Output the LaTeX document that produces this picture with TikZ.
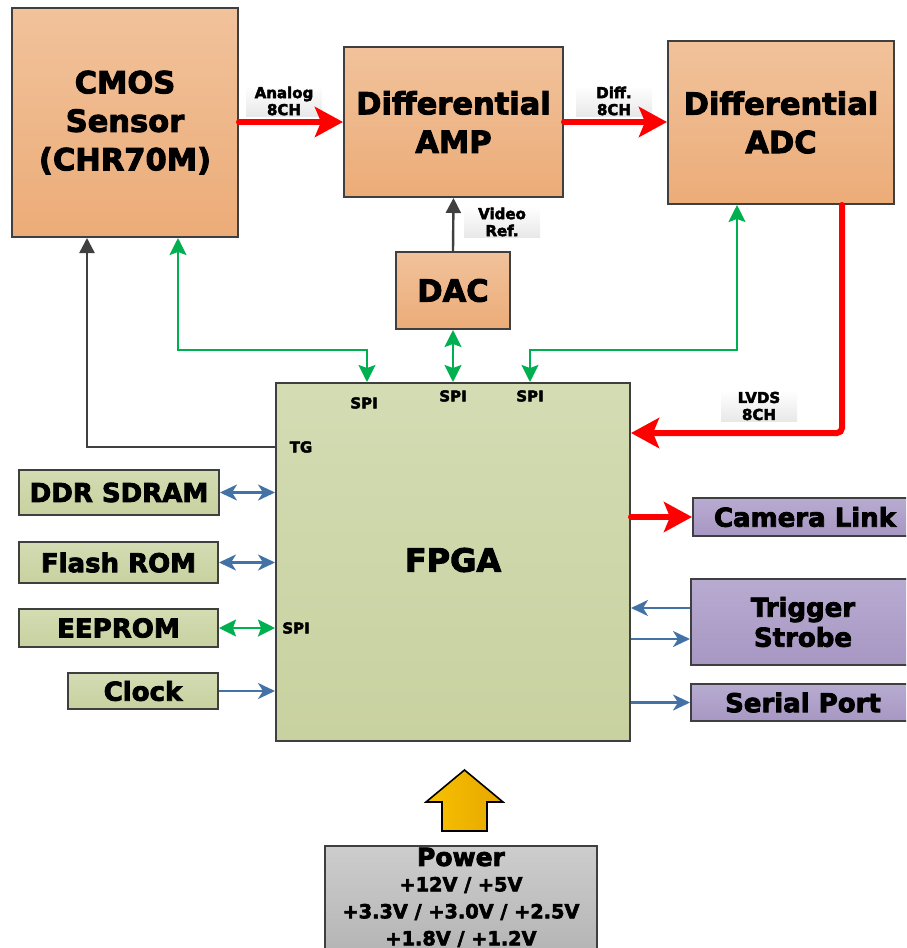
\documentclass[tikz,border=0pt]{standalone}
\usepackage{fontspec}
\setmainfont{DejaVu Sans}[BoldFeatures={FakeBold=3}]
\usetikzlibrary{arrows.meta,calc}
\definecolor{bordercol}{HTML}{3F3F3F}
\definecolor{orT}{HTML}{F1C29B}
\definecolor{orB}{HTML}{ECAC78}
\definecolor{gnT}{HTML}{D3DCB3}
\definecolor{gnB}{HTML}{C8D19F}
\definecolor{puT}{HTML}{B8ABD1}
\definecolor{puB}{HTML}{A797C3}
\definecolor{grT}{HTML}{CDCDCD}
\definecolor{grB}{HTML}{B2B2B2}
\definecolor{grnline}{HTML}{00B050}
\definecolor{bluline}{HTML}{4272A6}
\definecolor{gryline}{HTML}{404040}
\definecolor{redline}{HTML}{FF0000}
\definecolor{yelL}{HTML}{F8C200}
\definecolor{yelR}{HTML}{E6A600}
\tikzset{
  blk/.style={draw=bordercol, line width=2pt, inner sep=0pt, align=center, font=\bfseries},
  orbox/.style={blk, top color=orT, bottom color=orB},
  gnbox/.style={blk, top color=gnT, bottom color=gnB},
  pubox/.style={blk, top color=puT, bottom color=puB},
  grbox/.style={blk, top color=grT, bottom color=grB},
  lbl/.style={inner sep=0pt, minimum width=76pt, minimum height=31pt, align=center,
    top color=white, bottom color=black!9, font=\fontsize{15}{17}\selectfont\bfseries},
  pin/.style={inner sep=0pt, font=\fontsize{15}{17}\selectfont\bfseries},
  bigtxt/.style={font=\fontsize{30.5}{38.5}\selectfont\bfseries},
  sidetxt/.style={font=\fontsize{26}{30}\selectfont\bfseries},
  redarr/.style={draw=redline, line width=6pt, line cap=round,
    -{Stealth[length=28pt,width=30pt,inset=6pt]}},
  grnarr/.style={draw=grnline, line width=2.4pt,
    {Stealth[length=17pt,width=17pt,inset=3pt]}-{Stealth[length=17pt,width=17pt,inset=3pt]}},
  bluarr/.style={draw=bluline, line width=2.4pt, -{Stealth[length=17pt,width=16pt,inset=5pt]}},
  blu2arr/.style={draw=bluline, line width=2.4pt,
    {Stealth[length=17pt,width=16pt,inset=5pt]}-{Stealth[length=17pt,width=16pt,inset=5pt]}},
  gryarr/.style={draw=gryline, line width=2.4pt, -{Triangle[length=15pt,width=15pt]}},
}
\begin{document}
\begin{tikzpicture}[x=1pt,y=-1pt]
\useasboundingbox (0,0) rectangle (906,948);
\clip (0,0) rectangle (906,948);
% main blocks
\node[orbox, bigtxt, minimum width=226pt, minimum height=229pt] (cmos) at (125,122.5) {CMOS\\Sensor\\(CHR70M)};
\node[orbox, bigtxt, minimum width=219pt, minimum height=150pt] (amp) at (453.5,122) {Differential\\AMP};
\node[orbox, bigtxt, minimum width=226pt, minimum height=163pt] (adc) at (781,122.5) {Differential\\ADC};
\node[orbox, bigtxt, minimum width=114pt, minimum height=77pt] (dac) at (453,290.5) {DAC};
\node[gnbox, minimum width=354pt, minimum height=358pt] (fpga) at (453,562) {};
\node[font=\fontsize{32}{36}\selectfont\bfseries] (fpgatxt) at (453,560) {FPGA};
% left blocks
\node[gnbox, sidetxt, minimum width=200pt, minimum height=45pt] (ddr) at (119,492.5) {DDR SDRAM};
\node[gnbox, sidetxt, minimum width=199pt, minimum height=41pt] (flash) at (118.5,562.5) {Flash ROM};
\node[gnbox, sidetxt, minimum width=199pt, minimum height=38pt] (eeprom) at (118.5,628) {EEPROM};
\node[gnbox, sidetxt, minimum width=150pt, minimum height=36pt] (clock) at (143,691) {Clock};
% right blocks
\node[pubox, minimum width=226pt, minimum height=38pt] (cam) at (806,517) {};
\node[sidetxt] (camtxt) at (805,517) {Camera Link};
\node[pubox, minimum width=228pt, minimum height=86pt] (trig) at (805,622) {};
\node[sidetxt, align=center] (trigtxt) at (803,622) {Trigger\\Strobe};
\node[pubox, minimum width=228pt, minimum height=37pt] (ser) at (805,702.5) {};
\node[sidetxt] (sertxt) at (803,702.5) {Serial Port};
% power
\node[grbox, minimum width=272pt, minimum height=118pt] (pwr) at (461,905) {};
\node[font=\fontsize{25}{28}\selectfont\bfseries] (pwrt) at (461,857) {Power};
\node[font=\fontsize{19.3}{22}\selectfont\bfseries] (pwr1) at (461,885) {+12V / +5V};
\node[font=\fontsize{19.3}{22}\selectfont\bfseries] (pwr2) at (461,912) {+3.3V / +3.0V / +2.5V};
\node[font=\fontsize{19.3}{22}\selectfont\bfseries] (pwr3) at (461,939) {+1.8V / +1.2V};
% power block arrow
\draw[black, line width=1.6pt, left color=yelL, right color=yelR, line join=miter]
  (442,831) -- (442,802) -- (426,802) -- (464.5,770) -- (503,802) -- (487,802) -- (487,831) -- cycle;
% labels
\node[lbl] (lanalog) at (284,101) {Analog\\8CH};
\node[lbl] (ldiff) at (614,101) {Diff.\\8CH};
\node[lbl] (lvideo) at (502,222) {Video\\Ref.};
\node[lbl] (llvds) at (759,406) {LVDS\\8CH};
\node[pin] (pspi1) at (364,403) {SPI};
\node[pin] (pspi2) at (453,396) {SPI};
\node[pin] (pspi3) at (530,396) {SPI};
\node[pin] (ptg) at (301,447) {TG};
\node[pin] (pspi4) at (296,628) {SPI};
% coordinates
\coordinate (g1) at (178,350);
\coordinate (g2) at (737,350);
\coordinate (tg) at (87,447);
\coordinate (lv) at (842,433);
% red connectors
\draw[redarr] (cmos.east |- 0,122) -- (amp.west |- 0,122);
\draw[redarr] (amp.east |- 0,122) -- (adc.west |- 0,122);
\draw[redarr, rounded corners=5pt] (adc.south -| lv) -- (lv) -- (fpga.east |- lv);
\draw[redarr] (fpga.east |- cam) -- (cam.west);
% gray
\draw[gryarr] (dac.north) -- (amp.south);
\draw[gryarr] (fpga.west |- tg) -- (tg) -- (cmos.south -| tg);
% green
\draw[grnarr] (cmos.south -| g1) -- (g1) -| (fpga.north -| 367,0);
\draw[grnarr] (dac.south) -- (fpga.north);
\draw[grnarr] (fpga.north -| 530,0) |- (g2) -- (adc.south -| g2);
\draw[grnarr] (eeprom.east) -- (fpga.west |- eeprom.east);
% blue
\draw[blu2arr] (ddr.east) -- (fpga.west |- ddr.east);
\draw[blu2arr] (flash.east) -- (fpga.west |- flash.east);
\draw[bluarr] (clock.east) -- (fpga.west |- clock.east);
\draw[bluarr] (trig.west |- 0,608) -- (fpga.east |- 0,608);
\draw[bluarr] (fpga.east |- 0,639) -- (trig.west |- 0,639);
\draw[bluarr] (fpga.east |- ser) -- (ser.west);
\end{tikzpicture}
\end{document}
